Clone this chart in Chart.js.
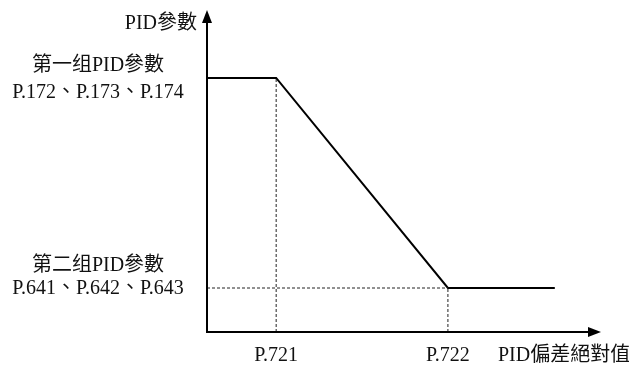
<!DOCTYPE html>
<html>
<head>
<meta charset="utf-8">
<script src="https://cdn.jsdelivr.net/npm/chart.js@4/dist/chart.umd.min.js"></script>
<style>
  html, body { margin: 0; padding: 0; background: #fff; }
  #wrap { width: 629px; height: 367px; }
</style>
</head>
<body>
<div id="wrap"><canvas id="c" width="629" height="367"></canvas></div>
<script>
// curve breakpoints (x = |PID deviation|, y = PID parameter), scale 0..100
const curveX = [0, 17.6, 61.3, 88.5];
const curveY = [79.4, 79.4, 13.75, 13.75];

// x-axis marks
const xTickValues = [17.6, 61.3];
const xTickLabels = ['P.721', 'P.722'];

// levels and their labels
const levelValues = [79.4, 13.75];
const levelTitles = ['第一组PID參數', '第二组PID參數'];
const levelParams = ['P.172、P.173、P.174', 'P.641、P.642、P.643'];

const yAxisTitle = 'PID參數';
const xAxisTitle = 'PID偏差絕對值';

const FONT = '20px "Liberation Serif", "Noto Sans CJK TC", serif';

const curvePoints = curveX.map((x, i) => ({ x: x, y: curveY[i] }));

// dashed guides built from the same values
const guideUp = [{ x: xTickValues[0], y: 0 }, { x: xTickValues[0], y: levelValues[0] }];
const guideLow = [{ x: 0, y: levelValues[1] }, { x: xTickValues[1], y: levelValues[1] }];
const guideRight = [{ x: xTickValues[1], y: 0 }, { x: xTickValues[1], y: levelValues[1] }];

function dashed(data) {
  return {
    data: data,
    showLine: true,
    borderColor: '#222',
    borderWidth: 1,
    borderDash: [3, 2],
    pointRadius: 0,
    fill: false
  };
}

const axesAndText = {
  id: 'axesAndText',
  afterDatasetsDraw(chart) {
    const ctx = chart.ctx;
    const xs = chart.scales.x, ys = chart.scales.y;
    const x0 = xs.getPixelForValue(0);
    const y0 = ys.getPixelForValue(0);
    ctx.save();
    ctx.strokeStyle = '#000';
    ctx.fillStyle = '#000';
    ctx.lineWidth = 2;

    // y axis with arrow
    ctx.beginPath();
    ctx.moveTo(x0, y0 + 1);
    ctx.lineTo(x0, ys.top + 8);
    ctx.stroke();
    ctx.beginPath();
    ctx.moveTo(x0, ys.top - 2);
    ctx.lineTo(x0 - 5, ys.top + 11);
    ctx.lineTo(x0 + 5, ys.top + 11);
    ctx.closePath();
    ctx.fill();

    // x axis with arrow
    ctx.beginPath();
    ctx.moveTo(x0 - 1, y0);
    ctx.lineTo(xs.right - 8, y0);
    ctx.stroke();
    ctx.beginPath();
    ctx.moveTo(xs.right + 1, y0);
    ctx.lineTo(xs.right - 12, y0 - 5);
    ctx.lineTo(xs.right - 12, y0 + 5);
    ctx.closePath();
    ctx.fill();

    // texts
    ctx.font = FONT;
    ctx.fillStyle = '#111';
    ctx.textBaseline = 'middle';
    ctx.textAlign = 'right';
    ctx.fillText(yAxisTitle, x0 - 10, ys.top + 12);

    ctx.textAlign = 'center';
    const labelX = 98;
    const yUp = ys.getPixelForValue(levelValues[0]);
    ctx.fillText(levelTitles[0], labelX, yUp - 12);
    ctx.fillText(levelParams[0], labelX, yUp + 15);
    const yLow = ys.getPixelForValue(levelValues[1]);
    ctx.fillText(levelTitles[1], labelX, yLow - 22);
    ctx.fillText(levelParams[1], labelX, yLow + 1);

    xTickValues.forEach((v, i) => {
      ctx.fillText(xTickLabels[i], xs.getPixelForValue(v), y0 + 24);
    });
    ctx.textAlign = 'left';
    ctx.fillText(xAxisTitle, 498, y0 + 24);
    ctx.restore();
  }
};

new Chart(document.getElementById('c'), {
  type: 'scatter',
  data: {
    datasets: [
      dashed(guideUp),
      dashed(guideLow),
      dashed(guideRight),
      {
        data: curvePoints,
        showLine: true,
        borderColor: '#000',
        borderWidth: 2,
        pointRadius: 0,
        fill: false
      }
    ]
  },
  options: {
    responsive: false,
    animation: false,
    clip: false,
    layout: { padding: { left: 207, right: 29, top: 12, bottom: 35 } },
    plugins: {
      legend: { display: false },
      tooltip: { enabled: false }
    },
    scales: {
      x: { type: 'linear', min: 0, max: 100, display: false },
      y: { type: 'linear', min: 0, max: 100, display: false }
    }
  },
  plugins: [axesAndText]
});
</script>
</body>
</html>
